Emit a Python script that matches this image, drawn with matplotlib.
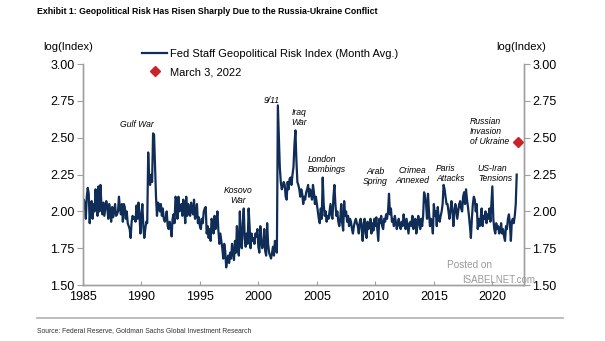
import numpy as np
import matplotlib
matplotlib.use("Agg")
import matplotlib.pyplot as plt

plt.rcParams['font.family'] = ['Liberation Sans', 'DejaVu Sans']

# monthly log(Index) values, Jan 1985 .. Feb 2022
gpr = [
    2.02, 2.08, 2.05, 1.95, 2.10, 2.16, 2.12, 1.92, 2.05, 2.07, 1.95, 2.05,  # 1985
    2.00, 2.15, 2.05, 1.97, 2.17, 2.00, 2.18, 2.05, 1.98, 2.06, 1.97, 2.02,  # 1986
    2.07, 2.03, 1.95, 2.05, 2.00, 1.93, 2.03, 1.96, 2.00, 2.05, 1.97, 1.98,  # 1987
    2.00, 2.10, 2.02, 1.98, 2.05, 1.93, 2.05, 2.03, 1.95, 2.00, 1.92, 1.90,  # 1988
    1.88, 1.82, 1.93, 1.97, 1.95, 1.96, 1.93, 2.04, 1.95, 2.06, 1.98, 1.85,  # 1989
    1.97, 2.05, 1.90, 1.82, 1.88, 1.93, 1.92, 2.40, 2.20, 2.18, 2.25, 2.20,  # 1990
    2.53, 2.52, 2.30, 2.10, 1.97, 2.06, 2.05, 2.00, 2.05, 1.97, 2.02, 1.95,  # 1991
    1.93, 1.95, 2.00, 1.90, 1.88, 1.93, 1.90, 1.83, 1.95, 1.98, 1.92, 2.10,  # 1992
    2.08, 1.95, 2.10, 2.00, 2.03, 2.05, 1.97, 2.08, 2.02, 1.92, 2.10, 1.97,  # 1993
    2.05, 2.00, 1.97, 2.06, 2.00, 1.98, 2.08, 1.95, 1.97, 2.05, 1.92, 1.96,  # 1994
    1.90, 1.88, 1.95, 1.92, 2.00, 2.02, 2.03, 1.85, 1.90, 1.82, 1.88, 1.80,  # 1995
    1.95, 1.92, 1.85, 1.97, 1.88, 1.93, 2.00, 1.87, 1.78, 1.85, 1.80, 1.75,  # 1996
    1.68, 1.78, 1.73, 1.62, 1.67, 1.70, 1.65, 1.72, 1.68, 1.78, 1.72, 1.67,  # 1997
    1.80, 1.72, 1.90, 1.75, 1.70, 2.00, 1.80, 1.75, 1.92, 2.02, 1.82, 1.76,  # 1998
    1.85, 1.78, 2.02, 1.90, 1.75, 1.85, 1.80, 1.82, 1.78, 1.85, 1.83, 1.88,  # 1999
    1.76, 1.72, 1.90, 1.80, 1.75, 1.78, 1.88, 1.73, 1.70, 1.92, 1.78, 1.72,  # 2000
    1.70, 1.68, 1.72, 1.76, 1.70, 1.80, 1.75, 1.72, 2.72, 2.50, 2.30, 2.20,  # 2001
    2.15, 2.17, 2.20, 2.18, 2.10, 2.08, 2.20, 2.15, 2.22, 2.23, 2.18, 2.25,  # 2002
    2.30, 2.45, 2.55, 2.35, 2.20, 2.18, 2.15, 2.10, 2.15, 2.12, 2.05, 2.10,  # 2003
    2.08, 2.13, 2.15, 2.18, 2.10, 2.15, 2.12, 2.08, 2.18, 2.13, 2.05, 2.10,  # 2004
    2.05, 2.00, 1.95, 1.92, 2.02, 1.95, 2.23, 2.05, 1.97, 2.00, 1.93, 1.97,  # 2005
    1.95, 2.00, 2.05, 1.97, 1.95, 2.10, 2.18, 2.05, 1.97, 2.00, 1.93, 1.90,  # 2006
    1.95, 2.05, 1.92, 1.87, 2.07, 1.97, 2.00, 1.93, 1.97, 1.90, 1.95, 1.93,  # 2007
    1.88, 1.85, 1.90, 1.93, 1.95, 1.92, 1.90, 1.85, 1.93, 1.95, 1.88, 1.80,  # 2008
    1.92, 1.95, 1.85, 1.82, 1.93, 1.88, 1.90, 1.95, 1.85, 1.92, 1.87, 1.95,  # 2009
    1.90, 1.96, 1.88, 1.80, 1.95, 1.92, 1.97, 1.90, 1.88, 1.95, 1.93, 1.98,  # 2010
    1.95, 2.00, 2.12, 1.98, 2.02, 1.93, 1.95, 1.90, 1.97, 1.93, 1.88, 1.92,  # 2011
    1.95, 1.90, 1.88, 1.93, 1.90, 1.98, 1.92, 1.88, 1.95, 1.90, 1.85, 1.92,  # 2012
    1.93, 1.90, 1.97, 1.88, 1.92, 1.95, 1.85, 1.90, 1.97, 1.93, 1.88, 1.95,  # 2013
    1.90, 1.97, 2.13, 2.10, 2.05, 1.95, 2.12, 2.00, 1.90, 1.95, 1.92, 1.85,  # 2014
    2.05, 1.97, 2.00, 1.90, 2.03, 1.95, 1.93, 1.97, 2.00, 2.05, 2.18, 2.15,  # 2015
    2.10, 2.05, 2.05, 2.00, 1.95, 2.00, 2.07, 2.02, 1.90, 1.98, 2.05, 2.02,  # 2016
    1.95, 2.00, 2.05, 2.07, 2.02, 2.00, 2.10, 2.13, 2.05, 2.15, 2.08, 2.03,  # 2017
    1.97, 1.90, 1.82, 1.95, 2.05, 2.10, 2.08, 2.00, 2.05, 1.88, 1.95, 1.90,  # 2018
    1.95, 2.02, 1.90, 1.97, 1.95, 2.00, 1.92, 1.98, 1.95, 2.02, 1.93, 2.05,  # 2019
    2.17, 1.95, 1.88, 1.85, 1.92, 1.88, 1.90, 1.85, 1.86, 1.92, 1.85, 1.88,  # 2020
    1.83, 1.80, 1.90, 1.88, 1.95, 1.98, 1.92, 1.80, 1.93, 1.95, 1.92, 1.97,  # 2021
    2.05, 2.25,                                                              # 2022
]
start_year = 1985
march3_x = 2022.17
march3_val = 2.47

events = ["Gulf War", "Kosovo\nWar", "9/11", "Iraq\nWar", "London\nBombings",
          "Arab\nSpring", "Crimea\nAnnexed", "Paris\nAttacks", "US-Iran\nTensions",
          "Russian\nInvasion\nof Ukraine"]
event_x = [1989.6, 1998.3, 2001.15, 2002.85, 2004.2, 2010.0, 2013.2, 2015.2, 2018.75, 2018.1]
event_y = [2.59, 2.11, 2.75, 2.635, 2.32, 2.235, 2.245, 2.26, 2.255, 2.54]
event_ha = ['center', 'center', 'center', 'left', 'left', 'center', 'center', 'left', 'left', 'left']

yticks = [1.50, 1.75, 2.00, 2.25, 2.50, 2.75, 3.00]
xticks = [1985, 1990, 1995, 2000, 2005, 2010, 2015, 2020]

navy = '#0f2d57'
red = '#c8242b'
grey = '#a0a0a0'

t = start_year + np.arange(len(gpr)) / 12.0

fig = plt.figure(figsize=(6.05, 3.41), dpi=100)
ax = fig.add_axes([0.137, 0.164, 0.729, 0.648])

ax.plot(t, gpr, color=navy, lw=1.6, label='Fed Staff Geopolitical Risk Index (Month Avg.)')
ax.plot([march3_x], [march3_val], marker='D', color=red, ms=5, ls='none', label='March 3, 2022')

ax.set_xlim(1985, 2022.7)
ax.set_ylim(1.5, 3.0)
ax.set_xticks(xticks)
ax.set_yticks(yticks)
ax.set_yticklabels([f'{v:.2f}' for v in yticks])

ax2 = ax.twinx()
ax2.set_ylim(1.5, 3.0)
ax2.set_yticks(yticks)
ax2.set_yticklabels([f'{v:.2f}' for v in yticks])

for a in (ax, ax2):
    a.spines['top'].set_visible(False)
    for s in ('left', 'right', 'bottom'):
        a.spines[s].set_color(grey)
        a.spines[s].set_linewidth(1.0)
    a.tick_params(axis='y', length=4, color=grey, labelsize=9, pad=2)
ax.tick_params(axis='x', direction='in', length=3, color=grey, labelsize=9, pad=4)

for txt, x, y, ha in zip(events, event_x, event_y, event_ha):
    ax.text(x, y, txt, ha=ha, va='center', fontsize=6.2, style='italic', linespacing=1.15)

leg = ax.legend(loc='upper left', bbox_to_anchor=(0.112, 1.115), frameon=False,
                fontsize=8, handlelength=2.2, handletextpad=0.3, labelspacing=0.75)

fig.text(0.112, 0.862, 'log(Index)', ha='center', va='center', fontsize=8)
fig.text(0.862, 0.862, 'log(Index)', ha='center', va='center', fontsize=8)

fig.text(0.061, 0.965, 'Exhibit 1: Geopolitical Risk Has Risen Sharply Due to the Russia-Ukraine Conflict',
         ha='left', va='center', fontsize=6.3, fontweight='bold')

fig.text(0.061, 0.03, 'Source: Federal Reserve, Goldman Sachs Global Investment Research',
         ha='left', va='center', fontsize=4.9, color='#333333')
fig.add_artist(plt.Line2D([0.061, 0.93], [0.068, 0.068], color='#b0b0b0', lw=1.2))

# watermark
fig.text(0.776, 0.222, 'Posted on', ha='center', va='center', fontsize=7.2, color='#9a9a9a')
fig.text(0.764, 0.18, 'ISABELNET.com', ha='left', va='center', fontsize=7, color='#9a9a9a')

fig.savefig('out.png', dpi=100)
